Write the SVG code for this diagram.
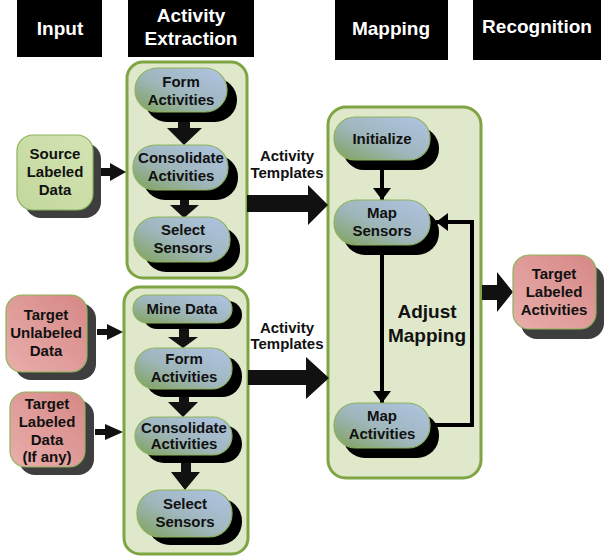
<svg xmlns="http://www.w3.org/2000/svg" width="610" height="556" viewBox="0 0 610 556">
<defs>
<linearGradient id="gPill" x1="0" y1="1" x2="1" y2="0">
<stop offset="0" stop-color="#7fa25a"/>
<stop offset="0.45" stop-color="#9fb6bc"/>
<stop offset="1" stop-color="#b0c4e4"/>
</linearGradient>
<linearGradient id="gRed" x1="0" y1="1" x2="1" y2="0">
<stop offset="0" stop-color="#e8aeab"/>
<stop offset="1" stop-color="#d68886"/>
</linearGradient>
<linearGradient id="gGreen" x1="0" y1="1" x2="1" y2="0">
<stop offset="0" stop-color="#c2d79c"/>
<stop offset="1" stop-color="#d3e4b3"/>
</linearGradient>
<marker id="ah" viewBox="0 0 12 18" refX="12" refY="9" markerWidth="12" markerHeight="18" markerUnits="userSpaceOnUse" orient="auto">
<path d="M0,0 L12,9 L0,18 Z" fill="#000"/>
</marker>
</defs>
<style>
.hdr{fill:#000}
.ht{font-family:"Liberation Sans",Arial,sans-serif;font-weight:bold;font-size:19px;fill:#fff;text-anchor:middle}
.t{font-family:"Liberation Sans",Arial,sans-serif;font-weight:bold;font-size:15px;fill:#111;text-anchor:middle}
.tl{font-family:"Liberation Sans",Arial,sans-serif;font-weight:bold;font-size:19px;fill:#111;text-anchor:middle}
.cont{fill:#dfe8cb;stroke:#7ea443;stroke-width:3}
.pill{fill:url(#gPill);stroke:#8db35a;stroke-width:1.2}
.psh{fill:#000}
.bsh{fill:#3e3e3e}
.red{fill:url(#gRed);stroke:#8db35a;stroke-width:1.2}
.grn{fill:url(#gGreen);stroke:#8db35a;stroke-width:1.2}
.blk{fill:#111}
.ln{fill:none;stroke:#000;stroke-width:4}
</style>

<g id="headers">
<rect class="hdr" x="17" y="0" width="85" height="57"/>
<text class="ht" x="60" y="35">Input</text>
<rect class="hdr" x="128" y="0" width="126" height="57"/>
<text class="ht" x="191" y="22">Activity</text>
<text class="ht" x="191" y="45">Extraction</text>
<rect class="hdr" x="335" y="0" width="113" height="60"/>
<text class="ht" x="391" y="35">Mapping</text>
<rect class="hdr" x="473" y="0" width="128" height="60"/>
<text class="ht" x="537" y="33">Recognition</text>
</g>

<g id="containers">
<rect id="extract-top" class="cont" x="127" y="62" width="120" height="216" rx="16"/>
<rect id="extract-bottom" class="cont" x="124" y="287" width="124" height="267" rx="16"/>
<rect id="mapping" class="cont" x="328" y="107" width="153" height="371" rx="18"/>
</g>

<g id="connectors">
<path class="blk" d="M101,168 H110 V163 L126,172 L110,181 V176 H101 Z"/>
<path class="blk" d="M97,329 H107 V324 L123,332 L107,340 V335 H97 Z"/>
<path class="blk" d="M95,429 H105 V424 L123,432 L105,440 V435 H95 Z"/>
<path class="blk" d="M178,112 H190 V128 H202 L184,145 L167,128 H178 Z"/>
<path class="blk" d="M180,190 H189 V205 H199 L184,218 L170,205 H180 Z"/>
<path class="blk" d="M179,323 H189 V337 H198 L183,348 L168,337 H179 Z"/>
<path class="blk" d="M179,388 H189 V402 H198 L183,417 L168,402 H179 Z"/>
<path class="blk" d="M181,453 H191 V472 H200 L185,490 L171,472 H181 Z"/>
<path class="blk" d="M247,195 H308 V185 L328,205 L308,225 V212 H247 Z"/>
<path class="blk" d="M248,370 H306 V357 L329,378 L306,399 V385 H248 Z"/>
<path class="blk" d="M482,285 H497 V272 L513,292 L497,312 V300 H482 Z"/>
<line class="ln" x1="382" y1="160" x2="382" y2="200" marker-end="url(#ah)"/>
<line class="ln" x1="382" y1="245" x2="382" y2="403" marker-end="url(#ah)"/>
<path class="ln" d="M428,425 H472 V222 H436" marker-end="url(#ah)"/>
</g>

<g id="n-source">
<rect class="bsh" x="25" y="143" width="76" height="75" rx="16"/>
<rect class="grn" x="17" y="135" width="76" height="75" rx="16"/>
<text class="t" x="55" y="159">Source</text>
<text class="t" x="55" y="177">Labeled</text>
<text class="t" x="55" y="195">Data</text>
</g>

<g id="n-target-unlabeled">
<rect class="bsh" x="15" y="303" width="81" height="77" rx="16"/>
<rect class="red" x="6" y="295" width="81" height="77" rx="16"/>
<text class="t" x="46" y="320">Target</text>
<text class="t" x="46" y="338">Unlabeled</text>
<text class="t" x="46" y="356">Data</text>
</g>

<g id="n-target-labeled">
<rect class="bsh" x="19" y="400" width="75" height="75" rx="16"/>
<rect class="red" x="10" y="392" width="75" height="75" rx="16"/>
<text class="t" x="47" y="409">Target</text>
<text class="t" x="47" y="427">Labeled</text>
<text class="t" x="47" y="445">Data</text>
<text class="t" x="47" y="462">(If any)</text>
</g>

<g id="n-form1">
<rect class="psh" x="145" y="78" width="92" height="44" rx="22"/>
<rect class="pill" x="135" y="68" width="92" height="44" rx="22"/>
<text class="t" x="181" y="87">Form</text>
<text class="t" x="181" y="105">Activities</text>
</g>
<g id="n-consolidate1">
<rect class="psh" x="143" y="155" width="95" height="45" rx="22"/>
<rect class="pill" x="133" y="145" width="95" height="45" rx="22"/>
<text class="t" x="181" y="163">Consolidate</text>
<text class="t" x="181" y="181">Activities</text>
</g>
<g id="n-select1">
<rect class="psh" x="144" y="227" width="96" height="45" rx="22"/>
<rect class="pill" x="134" y="217" width="96" height="45" rx="22"/>
<text class="t" x="183" y="235">Select</text>
<text class="t" x="183" y="253">Sensors</text>
</g>

<g id="n-mine">
<rect class="psh" x="143" y="301" width="99" height="28" rx="14"/>
<rect class="pill" x="133" y="295" width="99" height="28" rx="14"/>
<text class="t" x="182" y="314">Mine Data</text>
</g>
<g id="n-form2">
<rect class="psh" x="145" y="356" width="97" height="41" rx="20"/>
<rect class="pill" x="135" y="348" width="97" height="41" rx="20"/>
<text class="t" x="184" y="364">Form</text>
<text class="t" x="184" y="382">Activities</text>
</g>
<g id="n-consolidate2">
<rect class="psh" x="145" y="425" width="97" height="38" rx="19"/>
<rect class="pill" x="135" y="417" width="97" height="38" rx="19"/>
<text class="t" x="184" y="433">Consolidate</text>
<text class="t" x="184" y="449">Activities</text>
</g>
<g id="n-select2">
<rect class="psh" x="147" y="498" width="95" height="47" rx="23"/>
<rect class="pill" x="137" y="490" width="95" height="47" rx="23"/>
<text class="t" x="185" y="509">Select</text>
<text class="t" x="185" y="527">Sensors</text>
</g>

<g id="n-initialize">
<rect class="psh" x="343" y="127" width="96" height="43" rx="21"/>
<rect class="pill" x="334" y="117" width="96" height="43" rx="21"/>
<text class="t" x="382" y="144">Initialize</text>
</g>
<g id="n-mapsensors">
<rect class="psh" x="343" y="210" width="96" height="45" rx="22"/>
<rect class="pill" x="334" y="200" width="96" height="45" rx="22"/>
<text class="t" x="382" y="218">Map</text>
<text class="t" x="382" y="236">Sensors</text>
</g>
<g id="n-mapactivities">
<rect class="psh" x="343" y="413" width="96" height="45" rx="22"/>
<rect class="pill" x="334" y="403" width="96" height="45" rx="22"/>
<text class="t" x="382" y="421">Map</text>
<text class="t" x="382" y="439">Activities</text>
</g>

<g id="labels">
<text class="t" x="287" y="161">Activity</text>
<text class="t" x="287" y="178">Templates</text>
<text class="t" x="287" y="333">Activity</text>
<text class="t" x="287" y="349">Templates</text>
<text class="tl" x="427" y="318">Adjust</text>
<text class="tl" x="427" y="342">Mapping</text>
</g>

<g id="n-target-activities">
<rect class="bsh" x="521" y="265" width="83" height="74" rx="16"/>
<rect class="red" x="513" y="255" width="83" height="74" rx="16"/>
<text class="t" x="554" y="279">Target</text>
<text class="t" x="554" y="297">Labeled</text>
<text class="t" x="554" y="315">Activities</text>
</g>
</svg>
